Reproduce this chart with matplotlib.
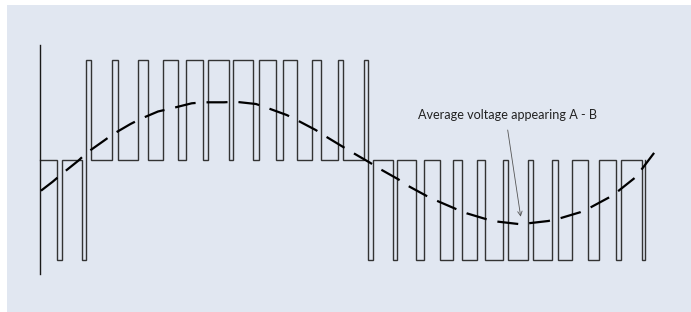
import matplotlib
matplotlib.use("Agg")
import matplotlib.pyplot as plt
from matplotlib.patches import Rectangle

plt.rcParams['lines.scale_dashes'] = False

# ---- data (time in drawing units, voltage normalised to -1..1) ----
t_start = 0.3
t_end = 605.0
pre_low_pulses = [(16.7, 21.7), (41.7, 46.0)]
high_pulses = [(46.0, 51.0), (72.0, 78.3), (97.7, 108.3), (123.3, 137.7),
               (146.0, 163.3), (168.3, 189.3), (193.3, 212.7), (219.3, 235.7),
               (243.3, 257.3), (271.7, 280.7), (298.3, 303.3), (324.3, 327.7)]
low_pulses = [(327.7, 332.7), (353.3, 357.3), (376.0, 384.3), (400.0, 413.3),
              (421.7, 437.3), (445.0, 463.3), (468.3, 488.3), (493.3, 511.7),
              (518.3, 531.7), (548.3, 559.3), (576.0, 580.7), (601.7, 605.0)]

avg_t = [1, 12.7, 21.7, 38.3, 46.5, 63.5, 73, 90.5, 101, 118, 131.7, 151.7,
         163.3, 184, 195, 216, 226.7, 246.7, 256.7, 275.7, 285, 302.7, 312.7,
         330, 340, 358.3, 368.3, 386.7, 396.7, 416, 426.7, 446.7, 458.3, 478.3,
         488.3, 508.3, 520, 540, 550, 569.3, 578.3, 595, 601.7, 615]
avg_v = [-0.312, -0.222, -0.145, -0.012, 0.065, 0.185, 0.253, 0.355, 0.408,
         0.48, 0.512, 0.562, 0.572, 0.572, 0.578, 0.555, 0.518, 0.445, 0.395,
         0.295, 0.235, 0.128, 0.068, -0.032, -0.095, -0.198, -0.265, -0.365,
         -0.412, -0.495, -0.538, -0.598, -0.622, -0.645, -0.638, -0.615,
         -0.588, -0.528, -0.482, -0.378, -0.315, -0.182, -0.098, 0.078]

label_text = "Average voltage appearing A - B"
label_pos = (378.3, 0.402)
arrow_tail = (467.7, 0.295)
arrow_head = (480.7, -0.572)

# ---- figure ----
W, H = 691, 312
fig = plt.figure(figsize=(W / 100, H / 100), dpi=100)
fig.patch.set_facecolor('white')
fig.add_artist(Rectangle((7 / W, 0), 1 - 7 / W, (H - 5) / H,
                         transform=fig.transFigure, facecolor='#e1e7f1',
                         edgecolor='none', zorder=0))

ax = fig.add_axes([0, 0, 1, 1])
ax.set_xlim(-40, W - 40)
ax.set_ylim(-1.525, 1.595)
ax.set_facecolor('none')
ax.axis('off')

# build PWM waveform
pulses = [(a, b, -1) for a, b in pre_low_pulses] + \
         [(a, b, 1) for a, b in high_pulses] + \
         [(a, b, -1) for a, b in low_pulses]
pulses.sort()
xs, ys = [t_start], [0]
for a, b, lev in pulses:
    xs += [a, a, b, b]
    ys += [0, lev, lev, 0]
xs.append(t_end)
ys.append(0)
ax.plot(xs, ys, color='#333333', lw=1.0, solid_joinstyle='miter', zorder=2)

# vertical axis line
ax.plot([t_start, t_start], [-1.145, 1.145], color='#1a1a1a', lw=1.0, zorder=3)

# average voltage dashed curve
ax.plot(avg_t, avg_v, color='black', lw=1.6, dashes=(15.1, 7.9),
        dash_capstyle='butt', zorder=4)

# annotation
ax.annotate('', xy=arrow_head, xytext=arrow_tail,
            arrowprops=dict(arrowstyle='->', color='#555555', lw=0.6,
                            shrinkA=0, shrinkB=0, mutation_scale=8), zorder=5)
txt = ax.text(label_pos[0], label_pos[1], label_text, fontsize=9.5,
              family='Lato', color='#222222', ha='left', va='baseline', zorder=5)

# fit text width to ~179 px
fig.canvas.draw()
bb = txt.get_window_extent()
txt.set_fontsize(9.5 * 179.0 / bb.width)

fig.savefig('out.png', dpi=100, facecolor='white')
